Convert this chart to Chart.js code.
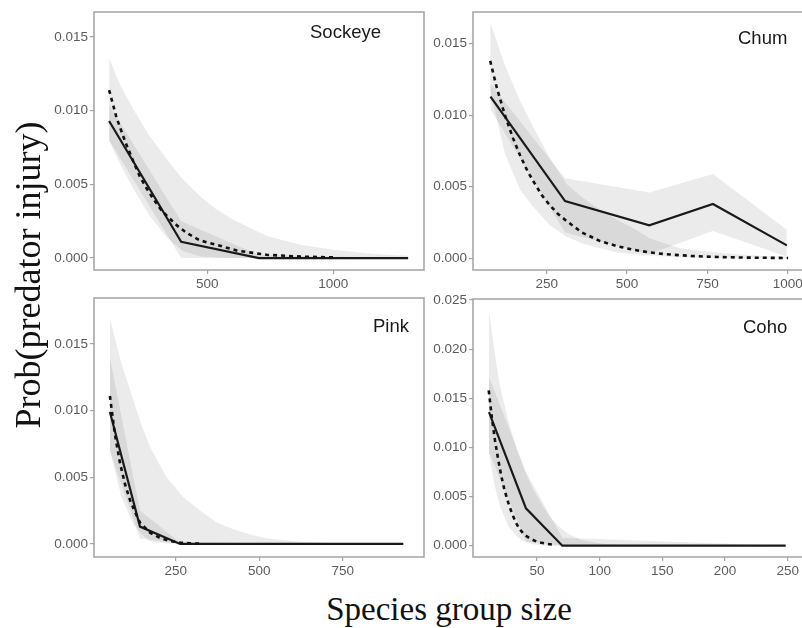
<!DOCTYPE html>
<html><head><meta charset="utf-8">
<script src="https://cdn.jsdelivr.net/npm/chart.js@4.4.1/dist/chart.umd.min.js"></script>
<style>
html,body{margin:0;padding:0;background:#fff;}
body{width:802px;height:628px;overflow:hidden;position:relative;}
canvas{position:absolute;}
.lab{position:absolute;font-family:"Liberation Sans",Arial,sans-serif;font-size:18.5px;color:#1a1a1a;line-height:20px;white-space:nowrap;}
.ttl{position:absolute;font-family:"Liberation Serif","Times New Roman",serif;color:#111;text-align:center;white-space:nowrap;}
</style></head><body>
<canvas id="c1" width="400" height="300" style="left:40px;top:0px"></canvas>
<canvas id="c2" width="400" height="300" style="left:420px;top:0px"></canvas>
<canvas id="c3" width="400" height="300" style="left:40px;top:285px"></canvas>
<canvas id="c4" width="400" height="300" style="left:420px;top:285px"></canvas>
<div class="lab" style="left:310px;top:22px">Sockeye</div>
<div class="lab" style="left:738px;top:28px">Chum</div>
<div class="lab" style="left:373px;top:316px">Pink</div>
<div class="lab" style="left:743px;top:317px">Coho</div>
<div class="ttl" style="left:-172px;top:255px;width:400px;height:40px;line-height:40px;font-size:36px;transform:rotate(-90deg);">Prob(predator injury)</div>
<div class="ttl" style="left:149px;top:589px;width:600px;height:40px;line-height:40px;font-size:33px;">Species group size</div>
<script>
// ---- Sockeye ----
const sockeyeObsX  = [110, 396, 705, 1297];
const sockeyeObsY  = [0.0093, 0.0011, 0.0000, 0.0000];
const sockeyeObsLo = [0.0080, 0.0000, 0.0000, 0.0000];
const sockeyeObsHi = [0.0104, 0.0025, 0.0002, 0.0000];
const sockeyeModX  = [110, 140, 174, 205, 233, 260, 286, 315, 343, 380, 418, 470, 537, 620, 736, 870, 1013];
const sockeyeModY  = [0.0114, 0.0095, 0.0079, 0.0066, 0.0055, 0.0047, 0.0040, 0.0033, 0.0028, 0.0022, 0.0017, 0.0012, 0.0009, 0.0005, 0.00022, 0.0001, 0.00004];
const sockeyeBandX  = [110, 150, 206, 270, 339, 400, 471, 537, 603, 736, 870, 1000, 1150, 1297];
const sockeyeBandHi = [0.0136, 0.0119, 0.0101, 0.0083, 0.0067, 0.0054, 0.0042, 0.0033, 0.0026, 0.0015, 0.0009, 0.00056, 0.0003, 0.00016];
const sockeyeBandLo = [0.0080, 0.0065, 0.0047, 0.0029, 0.0014, 0.0005, 0.0001, 0.00003, 0, 0, 0, 0, 0, 0];
const sockeyeXTicks = [500, 1000];
const sockeyeYTicks = [0.000, 0.005, 0.010, 0.015];

// ---- Chum ----
const chumObsX  = [75, 307, 569, 767, 997];
const chumObsY  = [0.0113, 0.0040, 0.0023, 0.0038, 0.0009];
const chumObsLo = [0.0104, 0.0018, 0.0003, 0.0019, 0.0001];
const chumObsHi = [0.0122, 0.0056, 0.0046, 0.0059, 0.0020];
const chumModX  = [74, 95, 120, 145, 167, 190, 208, 235, 260, 285, 312, 360, 416, 470, 520, 570, 623, 700, 780, 860, 940, 1001];
const chumModY  = [0.0138, 0.0119, 0.0100, 0.0084, 0.0072, 0.0061, 0.0054, 0.0044, 0.0037, 0.0031, 0.0026, 0.0018, 0.0012, 0.00084, 0.00059, 0.00041, 0.00028, 0.00016, 0.00009, 0.00005, 0.00003, 0.00002];
const chumBandX  = [74, 120, 167, 208, 260, 312, 364, 416, 470, 520, 570, 623, 665, 700, 780, 860, 940, 1001];
const chumBandHi = [0.0165, 0.0135, 0.0110, 0.0092, 0.0070, 0.0052, 0.0042, 0.0034, 0.0027, 0.0021, 0.0014, 0.0010, 0.0007, 0.0006, 0.0004, 0.00025, 0.00015, 0.0001];
const chumBandLo = [0.0117, 0.0073, 0.0048, 0.0036, 0.0023, 0.0015, 0.0010, 0.0007, 0.0004, 0.0003, 0.0002, 0.00012, 0.00008, 0.00005, 0.00002, 0, 0, 0];
const chumXTicks = [250, 500, 750, 1000];
const chumYTicks = [0.000, 0.005, 0.010, 0.015];

// ---- Pink ----
const pinkObsX  = [53, 143, 263, 931];
const pinkObsY  = [0.0099, 0.0013, 0.0000, 0.0000];
const pinkObsLo = [0.0070, 0.0004, 0.0000, 0.0000];
const pinkObsHi = [0.0140, 0.0025, 0.0001, 0.0000];
const pinkModX  = [53, 68, 83, 98, 113, 128, 143, 173, 203, 233, 263, 293, 323];
const pinkModY  = [0.0111, 0.0082, 0.0061, 0.0045, 0.0033, 0.0024, 0.0016, 0.00085, 0.00045, 0.00022, 0.0001, 0.00005, 0.00002];
const pinkBandX  = [53, 88, 123, 148, 173, 198, 223, 273, 323, 373, 423, 473, 522, 572, 622, 700, 800, 931];
const pinkBandHi = [0.0169, 0.0135, 0.0108, 0.0089, 0.0073, 0.0061, 0.0050, 0.0035, 0.0025, 0.0016, 0.0011, 0.0007, 0.00043, 0.00028, 0.00017, 0.00008, 0.00003, 0];
const pinkBandLo = [0.0070, 0.0035, 0.0015, 0.0007, 0.0002, 0.0001, 0.00004, 0, 0, 0, 0, 0, 0, 0, 0, 0, 0, 0];
const pinkXTicks = [250, 500, 750];
const pinkYTicks = [0.000, 0.005, 0.010, 0.015];

// ---- Coho ----
const cohoObsX  = [11.7, 41.2, 70.2, 248.4];
const cohoObsY  = [0.0136, 0.0038, 0.0000, 0.0000];
const cohoObsLo = [0.0095, 0.0004, 0.0000, 0.0000];
const cohoObsHi = [0.0172, 0.0075, 0.0008, 0.0000];
const cohoModX  = [11.5, 14, 16.5, 19, 21.5, 24, 27, 30, 33, 36, 40, 45, 50, 57, 65];
const cohoModY  = [0.0158, 0.0130, 0.0107, 0.0088, 0.0071, 0.0057, 0.0044, 0.0033, 0.0024, 0.0017, 0.0011, 0.0007, 0.0004, 0.0002, 0.00007];
const cohoBandX  = [11.5, 16, 20.5, 27, 34, 40, 47, 54, 60, 67, 74, 85, 100, 115, 130];
const cohoBandHi = [0.0240, 0.0198, 0.0162, 0.0128, 0.0098, 0.0077, 0.0057, 0.0042, 0.0030, 0.0020, 0.0013, 0.0006, 0.00024, 0.0001, 0.00003];
const cohoBandLo = [0.0095, 0.0062, 0.0040, 0.0020, 0.0009, 0.0004, 0.00015, 0.00005, 0, 0, 0, 0, 0, 0, 0];
const cohoXTicks = [50, 100, 150, 200, 250];
const cohoYTicks = [0.000, 0.005, 0.010, 0.015, 0.020, 0.025];

const pts = (xs, ys) => xs.map((x, i) => ({x: x, y: ys[i]}));
const BAND = 'rgba(0,0,0,0.08)';
const AXIS_GREY = '#a3a3a3';
const TICK_TXT = '#5c5c5c';

const borderPlugin = {
  id: 'panelBorder',
  afterDraw(chart) {
    const a = chart.chartArea, ctx = chart.ctx;
    ctx.save();
    ctx.strokeStyle = AXIS_GREY;
    ctx.lineWidth = 1.5;
    ctx.strokeRect(a.left, a.top, a.right - a.left, a.bottom - a.top);
    ctx.restore();
  }
};

function makePanel(id, p) {
  new Chart(document.getElementById(id), {
    type: 'line',
    data: {
      datasets: [
        {data: pts(p.modX, p.modY), borderColor: '#111', borderWidth: 2.6, borderDash: [4, 4], pointRadius: 0, fill: false, order: 0},
        {data: pts(p.obsX, p.obsY), borderColor: '#1a1a1a', borderWidth: 2.2, pointRadius: 0, fill: false, order: 0},
        {data: pts(p.bandX, p.bandHi), borderWidth: 0, borderColor: 'rgba(0,0,0,0)', backgroundColor: BAND, pointRadius: 0, fill: '+1', order: 2},
        {data: pts(p.bandX, p.bandLo), borderWidth: 0, borderColor: 'rgba(0,0,0,0)', pointRadius: 0, fill: false, order: 2},
        {data: pts(p.obsX, p.obsHi), borderWidth: 0, borderColor: 'rgba(0,0,0,0)', backgroundColor: BAND, pointRadius: 0, fill: '+1', order: 2},
        {data: pts(p.obsX, p.obsLo), borderWidth: 0, borderColor: 'rgba(0,0,0,0)', pointRadius: 0, fill: false, order: 2}
      ]
    },
    options: {
      responsive: false,
      animation: false,
      devicePixelRatio: 1,
      layout: {padding: {top: p.padTop, right: p.padRight, left: 0, bottom: 0}},
      plugins: {legend: {display: false}, tooltip: {enabled: false}, title: {display: false}},
      elements: {line: {tension: 0}},
      scales: {
        x: {
          type: 'linear', min: p.xMin, max: p.xMax,
          afterBuildTicks: s => { s.ticks = p.xTicks.map(v => ({value: v})); },
          afterFit: s => { s.height = p.xAxisH; },
          grid: {display: true, drawOnChartArea: false, drawTicks: true, tickLength: 4, color: AXIS_GREY, lineWidth: 1.2},
          border: {display: false},
          ticks: {color: TICK_TXT, padding: 2, maxRotation: 0, autoSkip: false,
                  font: {family: '"Liberation Sans", Arial, sans-serif', size: 13.5},
                  callback: v => String(v)}
        },
        y: {
          type: 'linear', min: p.yMin, max: p.yMax,
          afterBuildTicks: s => { s.ticks = p.yTicks.map(v => ({value: v})); },
          afterFit: s => { s.width = p.yAxisW; },
          grid: {display: true, drawOnChartArea: false, drawTicks: true, tickLength: 4, color: AXIS_GREY, lineWidth: 1.2},
          border: {display: false},
          ticks: {color: TICK_TXT, padding: 2, autoSkip: false,
                  font: {family: '"Liberation Sans", Arial, sans-serif', size: 13.5},
                  callback: v => Number(v).toFixed(3)}
        }
      }
    },
    plugins: [borderPlugin]
  });
}

makePanel('c1', {obsX: sockeyeObsX, obsY: sockeyeObsY, obsLo: sockeyeObsLo, obsHi: sockeyeObsHi,
  modX: sockeyeModX, modY: sockeyeModY, bandX: sockeyeBandX, bandHi: sockeyeBandHi, bandLo: sockeyeBandLo,
  xTicks: sockeyeXTicks, yTicks: sockeyeYTicks, xMin: 50, xMax: 1360, yMin: -0.00081, yMax: 0.0167,
  yAxisW: 54, xAxisH: 30, padTop: 12, padRight: 16});
makePanel('c2', {obsX: chumObsX, obsY: chumObsY, obsLo: chumObsLo, obsHi: chumObsHi,
  modX: chumModX, modY: chumModY, bandX: chumBandX, bandHi: chumBandHi, bandLo: chumBandLo,
  xTicks: chumXTicks, yTicks: chumYTicks, xMin: 20.6, xMax: 1069, yMin: -0.00082, yMax: 0.01722,
  yAxisW: 53, xAxisH: 30, padTop: 12, padRight: 10});
makePanel('c3', {obsX: pinkObsX, obsY: pinkObsY, obsLo: pinkObsLo, obsHi: pinkObsHi,
  modX: pinkModX, modY: pinkModY, bandX: pinkBandX, bandHi: pinkBandHi, bandLo: pinkBandLo,
  xTicks: pinkXTicks, yTicks: pinkYTicks, xMin: 5.4, xMax: 993, yMin: -0.00098, yMax: 0.01845,
  yAxisW: 54, xAxisH: 28, padTop: 13, padRight: 16});
makePanel('c4', {obsX: cohoObsX, obsY: cohoObsY, obsLo: cohoObsLo, obsHi: cohoObsHi,
  modX: cohoModX, modY: cohoModY, bandX: cohoBandX, bandHi: cohoBandHi, bandLo: cohoBandLo,
  xTicks: cohoXTicks, yTicks: cohoYTicks, xMin: -1.06, xMax: 267.8, yMin: -0.00115, yMax: 0.0251,
  yAxisW: 53, xAxisH: 28, padTop: 14, padRight: 10});
</script>
</body></html>
